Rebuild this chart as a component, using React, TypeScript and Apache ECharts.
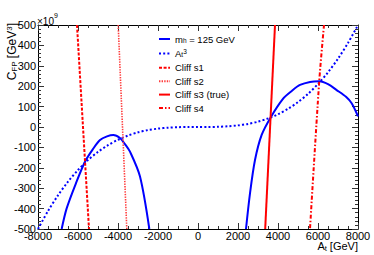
import React, { useEffect, useRef } from "react";
import * as echarts from "echarts";

// ---- data (A_t in GeV, C_FP in 10^9 GeV^3) ----
const mhLeftA = [-6817, -6567, -6100, -5650, -5250, -4900, -4550, -4233, -3900, -3650, -3400, -2900, -2433];
const mhLeftC = [-500, -399, -275, -170, -108, -64, -46, -39, -54, -84, -121, -243, -500];
const mhRightA = [2400, 2600, 2850, 3183, 3633, 4267, 4700, 5100, 5600, 6067, 6500, 6933, 7400, 7683, 8000];
const mhRightC = [-500, -325, -162, -39, 47, 140, 178, 206, 221, 224, 210, 181, 148, 116, 52];

const cubeA = [-8000, -7500, -7000, -6500, -6000, -5500, -5000, -4500, -4000, -3500, -3000, -2500, -2000, -1500, -1000, -500, 0,
  500, 1000, 1500, 2000, 2500, 3000, 3500, 4000, 4500, 5000, 5500, 6000, 6500, 7000, 7500, 8000];
const cubeC = [-500, -412, -335, -268, -211, -162, -122, -89, -62.5, -42, -26, -15, -8, -3.3, -1, -0.1, 0,
  0.1, 1, 3.3, 8, 15, 26, 42, 62.5, 89, 122, 162, 211, 268, 335, 412, 500];

const s1A = [-6050, -5450];
const s1C = [500, -500];
const s2A = [-3990, -3560];
const s2C = [500, -500];
const s3A = [3850, 3360];
const s3C = [500, -500];
const s4A = [6300, 6060, 5600];
const s4C = [500, 222, -500];

const xTicks = { min: -8000, max: 8000, step: 2000 };
const yTicks = { min: -500, max: 500, step: 100 };

const seriesNames = ["m_h = 125 GeV", "A_t^3", "Cliff s1", "Cliff s2", "Cliff s3 (true)", "Cliff s4"];

const pairs = (a: number[], c: number[]) => a.map((v, i) => [v, c[i]]);

const FONT = "'Liberation Sans', Arial, Helvetica, sans-serif";
const BLUE = "#0000ff";
const RED = "#ff0000";

export default function App() {
  const ref = useRef<HTMLDivElement>(null);
  useEffect(() => {
    if (!ref.current) return;
    const chart = echarts.init(ref.current, undefined, { renderer: "svg" });

    const mkAxisCommon = {
      axisLine: { show: true, onZero: false, lineStyle: { color: "#000", width: 1 } },
      axisTick: { show: true, inside: true, length: 6, lineStyle: { color: "#333", width: 1 } },
      splitLine: { show: false },
    };

    const line = (name: string, data: number[][], color: string, width: number, type: any, smooth: number | boolean = false) => ({
      type: "line",
      name,
      data,
      symbol: "none",
      showSymbol: false,
      smooth,
      clip: true,
      lineStyle: { color, width, type },
      itemStyle: { color },
      z: 3,
    });

    const fmt = (v: number) => String(v);

    chart.setOption({
      animation: false,
      backgroundColor: "#fff",
      textStyle: { fontFamily: FONT },
      grid: { left: 38, right: 16, top: 25, bottom: 26, containLabel: false },
      xAxis: [
        {
          type: "value",
          position: "bottom",
          min: xTicks.min,
          max: xTicks.max,
          interval: xTicks.step,
          ...mkAxisCommon,
          minorTick: { show: true, splitNumber: 4, length: 3, lineStyle: { color: "#333", width: 1 } },
          axisLabel: { show: true, fontSize: 11, color: "#000", margin: 1, fontFamily: FONT, formatter: fmt },
        },
        {
          type: "value",
          position: "top",
          min: xTicks.min,
          max: xTicks.max,
          interval: xTicks.step,
          ...mkAxisCommon,
          minorTick: { show: true, splitNumber: 4, length: 3, lineStyle: { color: "#333", width: 1 } },
          axisLabel: { show: false },
        },
      ],
      yAxis: [
        {
          type: "value",
          position: "left",
          min: yTicks.min,
          max: yTicks.max,
          interval: yTicks.step,
          ...mkAxisCommon,
          minorTick: { show: true, splitNumber: 5, length: 3, lineStyle: { color: "#333", width: 1 } },
          axisLabel: { show: true, fontSize: 11, color: "#000", margin: 2, fontFamily: FONT, formatter: fmt },
        },
        {
          type: "value",
          position: "right",
          min: yTicks.min,
          max: yTicks.max,
          interval: yTicks.step,
          ...mkAxisCommon,
          minorTick: { show: true, splitNumber: 5, length: 3, lineStyle: { color: "#333", width: 1 } },
          axisLabel: { show: false },
        },
      ],
      legend: {
        orient: "vertical",
        left: 153,
        top: 28,
        itemWidth: 11,
        itemHeight: 10,
        itemGap: 3.4,
        selectedMode: false,
        data: seriesNames,
        itemStyle: { opacity: 0, borderWidth: 0 },
        formatter: (name: string) => {
          if (name === "m_h = 125 GeV") return "{n|m}{sub|h}{n| = 125 GeV}";
          if (name === "A_t^3") return "{n|A}{sub|t}{sup|3}";
          return "{n|" + name + "}";
        },
        textStyle: {
          color: "#000",
          fontFamily: FONT,
          fontSize: 9.5,
          rich: {
            n: { fontSize: 9.5, fontFamily: FONT, color: "#000", lineHeight: 10 },
            sub: { fontSize: 6.5, fontFamily: FONT, color: "#000", verticalAlign: "bottom", lineHeight: 10, padding: [4, 0, 0, 0] },
            sup: { fontSize: 6.5, fontFamily: FONT, color: "#000", verticalAlign: "top", lineHeight: 10, padding: [0, 0, 4, 0] },
          },
        },
      },
      series: [
        line(seriesNames[0], pairs(mhLeftA, mhLeftC), BLUE, 2, "solid", 0.3),
        line(seriesNames[0], pairs(mhRightA, mhRightC), BLUE, 2, "solid", 0.3),
        line(seriesNames[1], pairs(cubeA, cubeC), BLUE, 2, [2, 2.2], 0.3),
        line(seriesNames[2], pairs(s1A, s1C), RED, 2, [3, 1.6]),
        line(seriesNames[3], pairs(s2A, s2C), "#ff3c3c", 1.6, [1.4, 1.2]),
        line(seriesNames[4], pairs(s3A, s3C), RED, 2, "solid"),
        line(seriesNames[5], pairs(s4A, s4C), RED, 2, [4, 2, 1.5, 2], 0.3),
      ],
      graphic: [
        {
          type: "text",
          left: 37,
          top: 16,
          style: { text: "×10", fontSize: 10, fontFamily: FONT, fill: "#000" },
        },
        {
          type: "text",
          left: 54,
          top: 12,
          style: { text: "9", fontSize: 7, fontFamily: FONT, fill: "#000" },
        },
        {
          type: "text",
          x: 12,
          y: 23,
          rotation: Math.PI / 2,
          style: {
            text: "{m|C}{s|FP}{m| [GeV}{p|3}{m|]}",
            align: "right",
            verticalAlign: "middle",
            fontFamily: FONT,
            fill: "#000",
            rich: {
              m: { fontSize: 12, fontFamily: FONT, fill: "#000", lineHeight: 14 },
              s: { fontSize: 8, fontFamily: FONT, fill: "#000", lineHeight: 14, padding: [5, 0, 0, 0] },
              p: { fontSize: 8, fontFamily: FONT, fill: "#000", lineHeight: 14, padding: [0, 0, 5, 0] },
            },
          },
        },
        {
          type: "text",
          x: 358,
          y: 246,
          style: {
            text: "{m|A}{s|t}{m| [GeV]}",
            align: "right",
            verticalAlign: "middle",
            fontFamily: FONT,
            fill: "#000",
            rich: {
              m: { fontSize: 11, fontFamily: FONT, fill: "#000", lineHeight: 13 },
              s: { fontSize: 7.5, fontFamily: FONT, fill: "#000", lineHeight: 13, padding: [5, 0, 0, 0] },
            },
          },
        },
      ],
    });
    return () => chart.dispose();
  }, []);

  return (
    <div
      ref={ref}
      style={{ position: "fixed", left: 0, top: 0, width: 374, height: 255, background: "#fff" }}
    />
  );
}
